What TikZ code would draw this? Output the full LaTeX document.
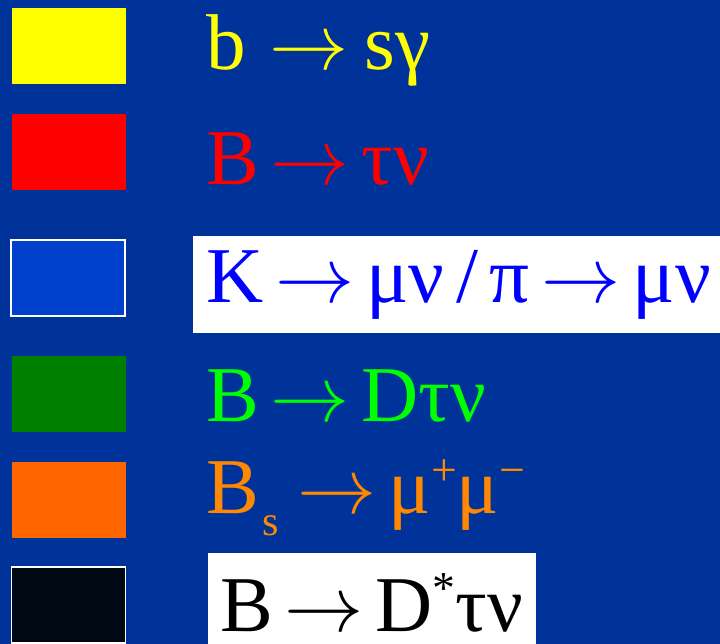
\documentclass[tikz,border=0pt]{standalone}
\usepackage{fix-cm}
\usepackage{fontspec}
\setmainfont{Liberation Serif}
\definecolor{slideblue}{HTML}{003399}
\definecolor{legyellow}{HTML}{FFFF00}
\definecolor{legred}{HTML}{FF0000}
\definecolor{legblue}{HTML}{0040CC}
\definecolor{textblue}{HTML}{0000FF}
\definecolor{leggreen}{HTML}{008000}
\definecolor{textgreen}{HTML}{00FF00}
\definecolor{legorange}{HTML}{FF6600}
\definecolor{textorange}{HTML}{FF8800}
\definecolor{legblack}{HTML}{000814}
\newcommand{\arr}{\kern0.15em$\rightarrow$\kern0.15em}
\newcommand{\lowsc}[1]{\raisebox{-12pt}{\fontsize{24}{24}\selectfont #1}}
\newcommand{\highsc}[1]{\raisebox{16pt}{\fontsize{26}{26}\selectfont #1}}
\tikzset{
    swatch/.style={rectangle, minimum width=2.28cm, minimum height=1.52cm, inner sep=0pt},
    framedswatch/.style={swatch, draw=white, line width=0.8pt},
    decay/.style={anchor=base west, inner sep=0pt, font=\fontsize{45}{50}\selectfont}
}
\begin{document}
\begin{tikzpicture}[x=0.02cm, y=-0.02cm]
    \fill[slideblue] (0,0) rectangle (720,644);
    \useasboundingbox (0,0) rectangle (720,644);

    % colour swatches
    \node[swatch, fill=legyellow] (bsg) at (69,46) {};
    \node[swatch, fill=legred] (btaunu) at (69,152) {};
    \node[framedswatch, fill=legblue] (kmunu) at (68,278) {};
    \node[swatch, fill=leggreen] (bdtaunu) at (69,394) {};
    \node[swatch, fill=legorange] (bsmumu) at (69,500) {};
    \node[framedswatch, fill=legblack] (bdstar) at (68.5,605) {};

    % white panels behind two labels
    \fill[white] (193,236) rectangle (720,333);
    \fill[white] (208,553) rectangle (536,644);

    % labels
    \node[decay, text=legyellow] (bsglab) at (206,70) {b\kern0.15em\arr\kern0.05em sγ};
    \node[decay, text=legred] (btaunulab) at (206,185) {B\arr τν};
    \node[decay, text=textblue] (kmunulab) at (206,303) {K\arr μν\kern0.15em/\kern0.15emπ\arr μν};
    \node[decay, text=textgreen] (bdtaunulab) at (206,422) {B\arr Dτν};
    \node[decay, text=textorange] (bsmumulab) at (206,514) {B\kern2pt\lowsc{s}\kern4pt\arr μ\highsc{+}μ\highsc{−}};
    \node[decay, text=black] (bdstarlab) at (220,632) {B\arr D\highsc{*}τν};
\end{tikzpicture}
\end{document}
